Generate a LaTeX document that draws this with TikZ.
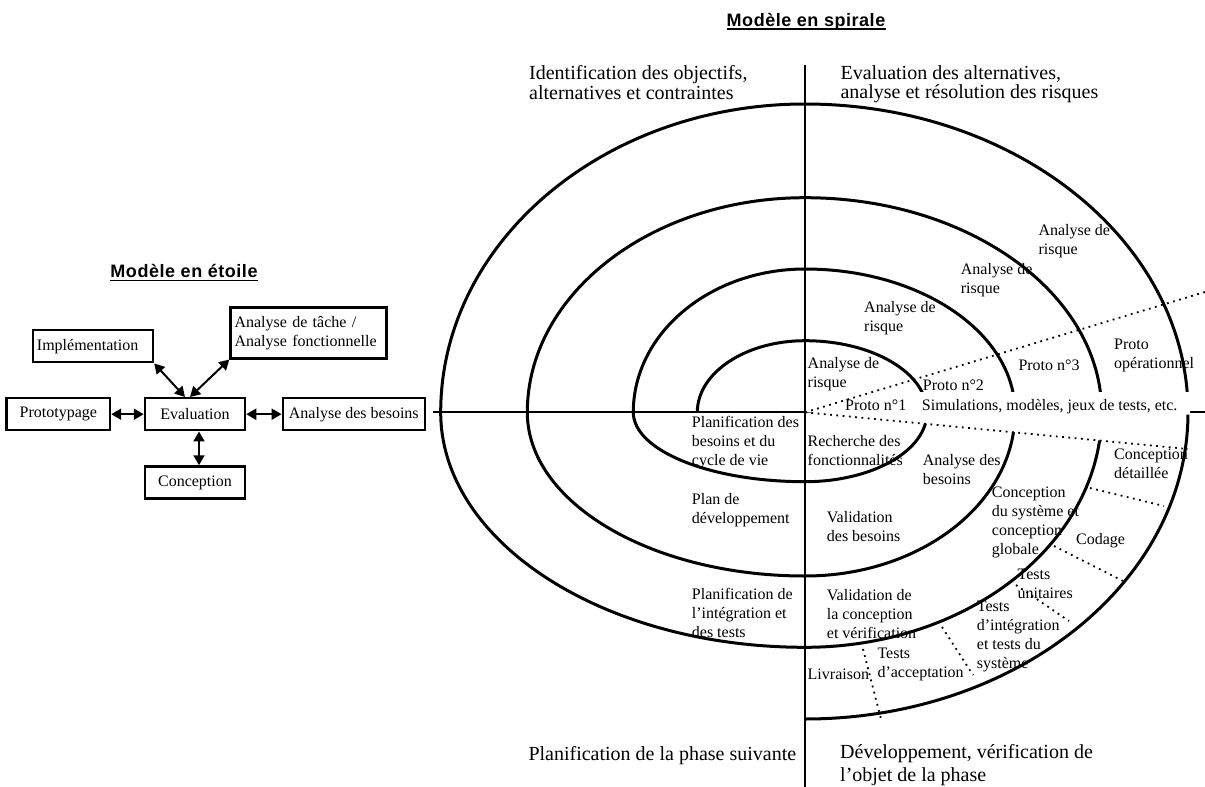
\documentclass[tikz,border=0pt]{standalone}
\usepackage{fontspec}
\setmainfont{Liberation Serif}
\newfontfamily\titrefont[LetterSpace=3]{Liberation Sans}
\usetikzlibrary{arrows.meta}

\begin{document}
\begin{tikzpicture}[x=1pt, y=1pt,
    spirale/.style={line width=3pt},
    axe/.style={line width=2pt},
    pointille/.style={line width=1.8pt, dash pattern=on 1.8pt off 4.5pt},
    boite/.style={draw, line width=2.5pt, minimum height=32pt, inner xsep=4pt, font=\fontsize{16}{19}\selectfont},
    fleche/.style={line width=2pt, {Triangle[length=10pt,width=11pt]}-{Triangle[length=10pt,width=11pt]}},
    etiq/.style={anchor=north west, inner sep=0pt, align=left, font=\fontsize{16}{19}\selectfont, execute at begin node=\strut},
    grand/.style={etiq, font=\fontsize{20}{23}\selectfont},
    titre/.style={anchor=base, inner sep=0pt, font=\titrefont\bfseries\fontsize{18}{20}\selectfont},
    souligne/.style={line width=1.4pt}]
    \useasboundingbox (0,0) rectangle (1205,-787);

    \node[titre] (tetoile) at (184,-277.7) {Modèle en étoile};
    \draw[souligne] ([yshift=-3pt]tetoile.base west) -- ([yshift=-3pt]tetoile.base east);
    \node[boite, minimum width=103.3pt] (proto) at (58.3,-414.2) {Prototypage};
    \node[boite, minimum width=100pt] (eval) at (195,-414.2) {Evaluation};
    \node[boite, minimum width=142pt] (besoins) at (353.8,-414.2) {Analyse des besoins};
    \node[boite, minimum width=100pt] (concep) at (195,-482.5) {Conception};
    \node[boite, anchor=west, text width=112pt, align=left] (impl) at (31.7,-346.2) {Implémentation};
    \node[boite, anchor=west, text width=147.7pt, align=left, minimum height=51pt] (tache) at (229.3,-332.8) {Analyse de tâche /\\Analyse fonctionnelle};
    \draw[fleche] (proto) -- (eval);
    \draw[fleche] (eval) -- (besoins);
    \draw[fleche] ([xshift=4pt]eval.south) -- ([xshift=4pt]concep.north);
    \draw[fleche] (impl.south east) -- ([xshift=-10pt]eval.north);
    \draw[fleche] (tache.south west) -- ([xshift=-5pt]eval.north);

    \node[titre] (tspirale) at (806,-26) {Modèle en spirale};
    \draw[souligne] ([yshift=-3pt]tspirale.base west) -- ([yshift=-3pt]tspirale.base east);
    \draw[axe] (433,-412.3) -- (1205,-412.3);
    \draw[axe] (805,-65) -- (805,-787);
    \draw[spirale] (697.3,-412.3)
    \foreach \a/\rx/\ry in {180/107.7/71.6, 90/122/71.6, 0/122/69.4, -90/171.7/69.4,
        180/171.7/143.3, 90/210/143.3, 0/210/163.7, -90/277.7/163.7,
        180/277.7/214.6, 90/296.7/214.6, 0/296.7/235, -90/364.3/235,
        180/364.3/308.3, 90/383/308.3, 0/383/306.7}
    { arc[start angle=\a, delta angle=-90, x radius=\rx, y radius=\ry] };
    \fill[white] (807,-392) -- (1190,-392) -- (1190,-414.5) -- (1183,-414.5) -- (1183,-448.4) -- (807,-412.2) -- cycle;
    \draw[pointille] (805,-412.3) -- (1205,-292);
    \draw[pointille] (805,-412.3) -- (1188,-449);
    \foreach \p/\q in {{1090,-488}/{1164,-506}, {1054,-546}/{1127,-583}, {1016,-585}/{1069,-621},
        {942,-627}/{973,-675}, {863,-649}/{881,-719}}
    {   \draw[pointille] (\p) -- (\q);
    }

    \node[grand, font=\fontsize{20}{19.5}\selectfont] (idobj) at (529,-65.4) {Identification des objectifs,\\alternatives et contraintes};
    \node[grand, font=\fontsize{20}{19.5}\selectfont] (evalt) at (840.4,-65.4) {Evaluation des alternatives,\\analyse et résolution des risques};
    \node[grand] (planph) at (528.3,-743.9) {Planification de la phase suivante};
    \node[grand] (devph) at (840,-743.9) {Développement, vérification de\\l’objet de la phase};

    \node[etiq] (r1) at (807.5,-357.4) {Analyse de\\risque};
    \node[etiq] (r2) at (864,-300.7) {Analyse de\\risque};
    \node[etiq] (r3) at (960.7,-262.7) {Analyse de\\risque};
    \node[etiq] (r4) at (1038.3,-224) {Analyse de\\risque};
    \node[etiq] (p1) at (845,-396.7) {Proto n°1};
    \node[etiq] (p2) at (922.7,-376.7) {Proto n°2};
    \node[etiq] (simul) at (921.7,-396.7) {Simulations, modèles, jeux de tests, etc.};
    \node[etiq] (p3) at (1018.3,-357.4) {Proto n°3};
    \node[etiq] (popr) at (1114,-338.4) {Proto\\opérationnel};
    \node[etiq] (planbes) at (691.7,-415.7) {Planification des\\besoins et du\\cycle de vie};
    \node[etiq] (rech) at (807.5,-435) {Recherche des\\fonctionnalités};
    \node[etiq] (anabes) at (922.7,-454.4) {Analyse des\\besoins};
    \node[etiq] (concdet) at (1114,-449) {Conception\\détaillée};
    \node[etiq] (plandev) at (691.7,-492.7) {Plan de\\développement};
    \node[etiq] (valbes) at (826.7,-511) {Validation\\des besoins};
    \node[etiq] (concsys) at (991.7,-486.7) {Conception\\du système et\\conception\\globale};
    \node[etiq] (codage) at (1076,-530.7) {Codage};
    \node[etiq] (planint) at (691.7,-588.4) {Planification de\\l’intégration et\\des tests};
    \node[etiq] (valconc) at (826.7,-588.7) {Validation de\\la conception\\et vérification};
    \node[etiq] (tu) at (1017.5,-568.4) {Tests\\unitaires};
    \node[etiq] (ti) at (976.7,-601) {Tests\\d’intégration\\et tests du\\système};
    \node[etiq] (ta) at (877.3,-647.4) {Tests\\d’acceptation};
    \node[etiq] (livr) at (807.5,-666) {Livraison};
\end{tikzpicture}
\end{document}
